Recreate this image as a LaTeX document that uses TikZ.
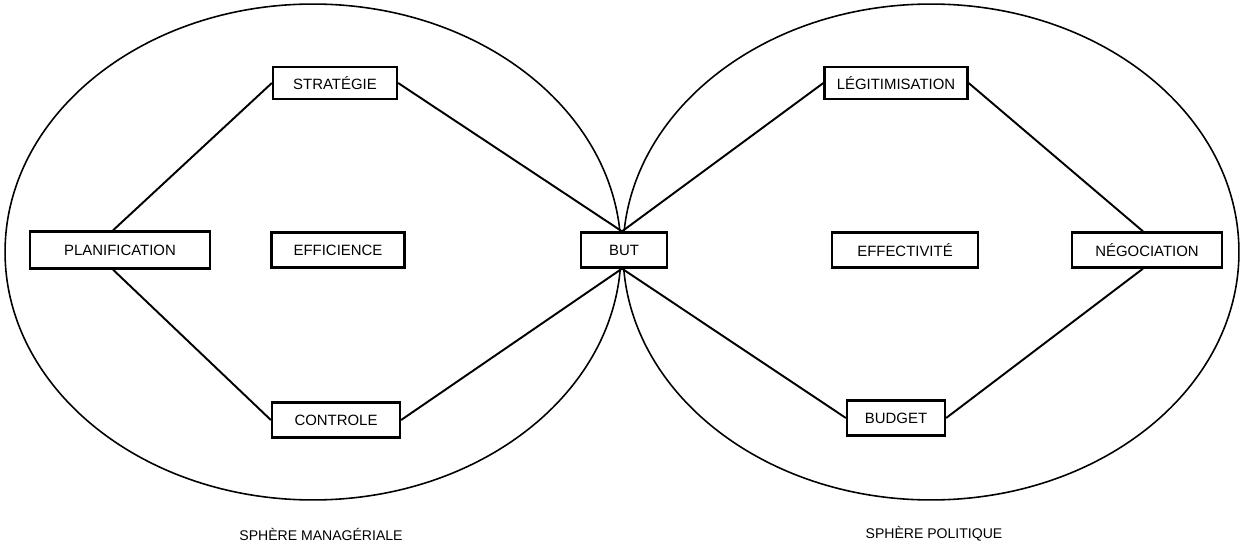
\documentclass[tikz,border=0pt]{standalone}
\usepackage{fontspec}
\setmainfont{Liberation Sans}
\usetikzlibrary{shapes.geometric}

\begin{document}
\begin{tikzpicture}[
  x=0.02cm, y=-0.02cm,
  every node/.style={font=\fontsize{8.5}{10}\selectfont},
  box/.style={draw, line width=1.3pt, minimum height=0.7cm, inner sep=2pt, fill=white},
  sphere/.style={draw, ellipse, line width=0.9pt, inner sep=0pt,
                 minimum width=12.32cm, minimum height=9.92cm},
  link/.style={line width=1.1pt},
  caption/.style={font=\fontsize{8}{9}\selectfont},
]
\useasboundingbox (0,0) rectangle (1244,547);

%% the two spheres
\node[sphere] (mgr) at (313,252) {};
\node[sphere] (pol) at (931,252) {};

%% left sphere
\node[box, minimum width=2.48cm, minimum height=0.64cm] (strat) at (335,83) {STRATÉGIE};
\node[box, minimum width=3.6cm, minimum height=0.74cm] (plan) at (120,250) {PLANIFICATION};
\node[box, minimum width=2.66cm] (eff) at (338,250) {EFFICIENCE};
\node[box, minimum width=2.56cm] (ctrl) at (336,420) {CONTROLE};

%% middle
\node[box, minimum width=1.72cm] (but) at (624,250) {BUT};

%% right sphere
\node[box, minimum width=2.86cm, minimum height=0.64cm] (legit) at (896,83) {LÉGITIMISATION};
\node[box, minimum width=2.92cm] (effect) at (905,250) {EFFECTIVITÉ};
\node[box, minimum width=3.0cm] (nego) at (1147,250) {NÉGOCIATION};
\node[box, minimum width=1.96cm] (budget) at (896,418) {BUDGET};

%% sphere names
\node[caption] (mgrname) at (321,534) {SPHÈRE MANAGÉRIALE};
\node[caption] (polname) at (934,534) {SPHÈRE POLITIQUE};

%% links
\draw[link] ([xshift=-0.14cm]plan.north) -- (strat.west);
\draw[link] ([xshift=-0.14cm]plan.south) -- (ctrl.west);
\draw[link] (strat.east) -- ([xshift=-0.04cm]but.north);
\draw[link] (ctrl.east)  -- ([xshift=-0.04cm]but.south);
\draw[link] (legit.west) -- ([xshift=-0.04cm]but.north);
\draw[link] (budget.west) -- ([xshift=-0.04cm]but.south);
\draw[link] (legit.east) -- ([xshift=-0.08cm]nego.north);
\draw[link] (budget.east) -- ([xshift=-0.08cm]nego.south);

\end{tikzpicture}
\end{document}
